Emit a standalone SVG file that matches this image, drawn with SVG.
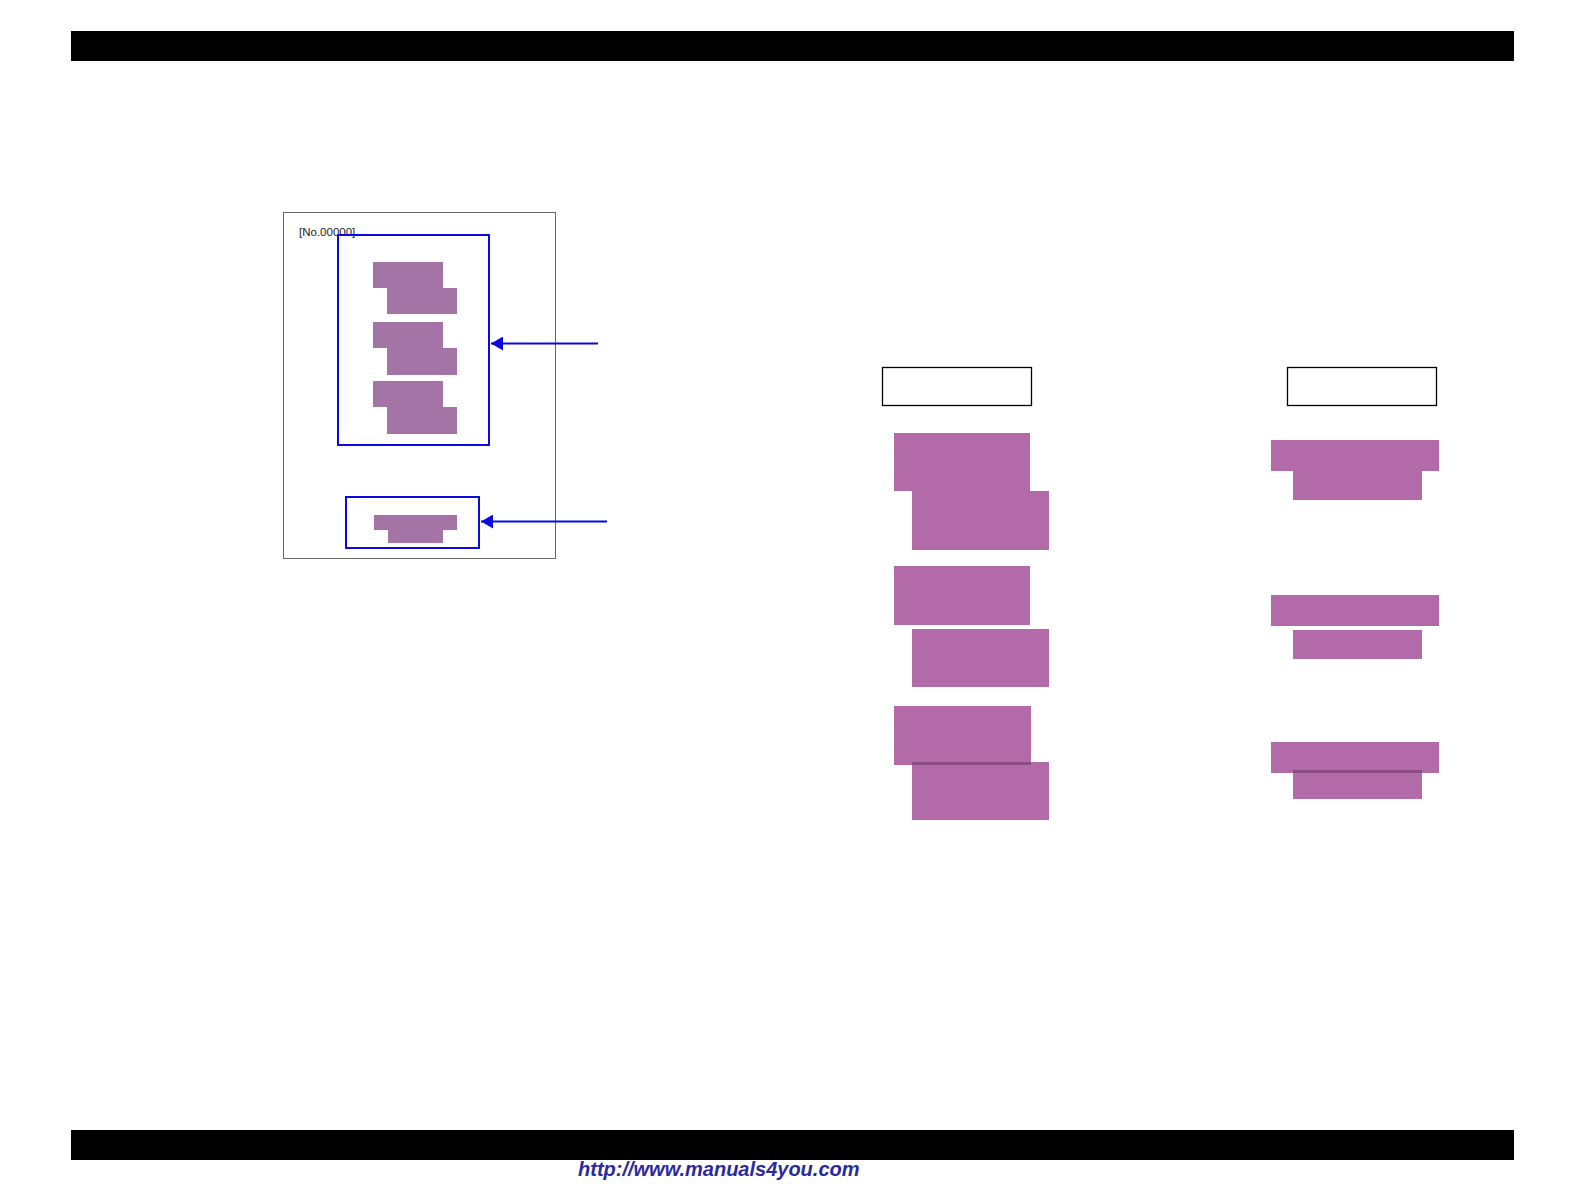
<svg xmlns="http://www.w3.org/2000/svg" width="1584" height="1190" viewBox="0 0 1584 1190">
<style>
.bar{fill:#000}
.pg{fill:#fff;stroke:#666;stroke-width:1}
.sel{fill:none;stroke:#0a0ae0;stroke-width:2}
.mini{fill:#a474a6}
.blk{fill:#b36aa9}
.ovl{fill:#8a4d86}
.hdr{fill:#fff;stroke:#000;stroke-width:1.3}
.lbl{font-family:"Liberation Sans",Arial,sans-serif;font-size:11.5px;fill:#222}
.url{font-family:"Liberation Sans",Arial,sans-serif;font-size:20px;font-weight:bold;font-style:italic;fill:#2a2a9c}
.con{stroke:#0a0ae0;stroke-width:2;fill:none}
</style>
<defs>
<marker id="ah" markerWidth="12" markerHeight="14" refX="12" refY="7" orient="auto" markerUnits="userSpaceOnUse">
<path d="M0,0 L12,7 L0,14 Z" fill="#0a0ae0"/>
</marker>
</defs>
<rect class="bar" x="71" y="31" width="1443" height="30"/>
<rect class="bar" x="71" y="1130" width="1443" height="30"/>

<g id="page">
<rect class="pg" x="283.5" y="212.5" width="272" height="346"/>
<text class="lbl" x="299" y="236">[No.00000]</text>
</g>
<g id="mini-top">
<rect class="mini" x="373" y="262" width="70" height="26"/>
<rect class="mini" x="387" y="288" width="70" height="26"/>
<rect class="mini" x="373" y="322" width="70" height="26"/>
<rect class="mini" x="387" y="348" width="70" height="27"/>
<rect class="mini" x="373" y="381" width="70" height="26"/>
<rect class="mini" x="387" y="407" width="70" height="27"/>
<rect class="sel" x="338" y="235" width="151" height="210"/>
</g>
<g id="mini-bottom">
<rect class="mini" x="374" y="515" width="83" height="15"/>
<rect class="mini" x="388" y="530" width="55" height="13"/>
<rect class="sel" x="346" y="497" width="133" height="51"/>
</g>

<g id="connectors">
<line class="con" x1="598" y1="343.5" x2="491" y2="343.5" marker-end="url(#ah)"/>
<line class="con" x1="607" y1="521.5" x2="481" y2="521.5" marker-end="url(#ah)"/>
</g>

<g id="left-column">
<rect class="hdr" x="882.5" y="367.5" width="149" height="38"/>
<rect class="blk" x="894" y="433" width="136" height="58"/>
<rect class="blk" x="912" y="491" width="137" height="59"/>
<rect class="blk" x="894" y="566" width="136" height="59"/>
<rect class="blk" x="912" y="629" width="137" height="58"/>
<rect class="blk" x="894" y="706" width="137" height="59"/>
<rect class="blk" x="912" y="762" width="137" height="58"/>
<rect class="ovl" x="912" y="762" width="119" height="3"/>
</g>

<g id="right-column">
<rect class="hdr" x="1287.5" y="367.5" width="149" height="38"/>
<rect class="blk" x="1271" y="440" width="168" height="31"/>
<rect class="blk" x="1293" y="471" width="129" height="29"/>
<rect class="blk" x="1271" y="595" width="168" height="31"/>
<rect class="blk" x="1293" y="630" width="129" height="29"/>
<rect class="blk" x="1271" y="742" width="168" height="31"/>
<rect class="blk" x="1293" y="770" width="129" height="29"/>
<rect class="ovl" x="1293" y="770" width="129" height="3"/>
</g>

<text class="url" x="578" y="1176">http://www.manuals4you.com</text>
</svg>
